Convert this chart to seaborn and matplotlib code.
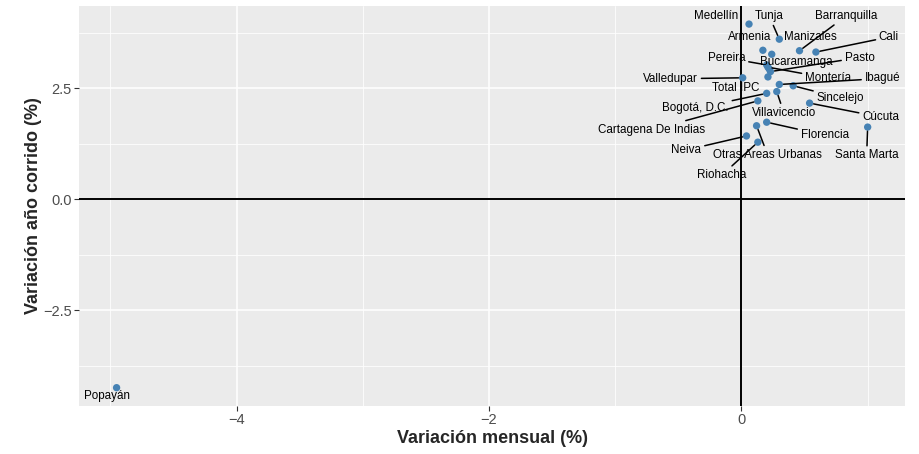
import numpy as np
import pandas as pd
import matplotlib
matplotlib.use("Agg")
import matplotlib.pyplot as plt
from matplotlib.ticker import FixedLocator, FuncFormatter
import seaborn as sns

# Datos: variación mensual y año corrido (%) por ciudad
ciudades = ["Medellín", "Tunja", "Barranquilla", "Armenia", "Manizales", "Cali",
            "Pereira", "Montería", "Bucaramanga", "Pasto", "Total IPC", "Valledupar",
            "Ibagué", "Sincelejo", "Bogotá, D.C.", "Villavicencio", "Cartagena De Indias",
            "Cúcuta", "Santa Marta", "Florencia", "Otras Areas Urbanas", "Neiva",
            "Riohacha", "Popayán"]
var_mensual = [0.06, 0.30, 0.46, 0.17, 0.24, 0.59,
               0.20, 0.21, 0.22, 0.23, 0.21, 0.01,
               0.30, 0.41, 0.20, 0.28, 0.13,
               0.54, 1.00, 0.20, 0.12, 0.04,
               0.13, -4.95]
var_anio = [3.95, 3.61, 3.35, 3.36, 3.27, 3.32,
            3.03, 2.98, 2.94, 2.88, 2.76, 2.74,
            2.59, 2.56, 2.39, 2.43, 2.22,
            2.17, 1.63, 1.74, 1.66, 1.43,
            1.29, -4.24]

df = pd.DataFrame({"ciudad": ciudades, "mensual": var_mensual, "anio": var_anio})

# desplazamiento de las etiquetas (pixeles) tipo ggrepel
offsets = {
    "Medellín": (-33, 8), "Tunja": (-10, 23), "Barranquilla": (47, 35),
    "Armenia": (-13, 13), "Manizales": (39, 17), "Cali": (73, 15),
    "Pereira": (-40, 7), "Montería": (60, -11), "Bucaramanga": (27, 7),
    "Pasto": (89, 14), "Total IPC": (-32, -11), "Valledupar": (-72, -1),
    "Ibagué": (103, 6), "Sincelejo": (47, -12), "Bogotá, D.C.": (-71, -15),
    "Villavicencio": (7, -21), "Cartagena De Indias": (-106, -29),
    "Cúcuta": (71, -14), "Santa Marta": (-1, -28), "Florencia": (58, -13),
    "Otras Areas Urbanas": (11, -29), "Neiva": (-60, -14),
    "Riohacha": (-36, -33), "Popayán": (-10, -8),
}
sin_segmento = ["Medellín", "Armenia", "Manizales", "Bucaramanga", "Total IPC", "Popayán"]

sns.set_theme(style="darkgrid", rc={
    "axes.facecolor": "#EBEBEB",
    "grid.color": "white",
    "axes.edgecolor": "none",
    "xtick.bottom": True, "ytick.left": True,
    "xtick.color": "#333333", "ytick.color": "#333333",
    "xtick.labelcolor": "#4D4D4D", "ytick.labelcolor": "#4D4D4D",
})
plt.rcParams["font.family"] = ["Liberation Sans", "DejaVu Sans"]

fig, ax = plt.subplots(figsize=(9.19, 4.54), dpi=100)
fig.subplots_adjust(left=0.086, right=0.985, top=0.987, bottom=0.106)

ax.axhline(0, color="black", lw=1.4, zorder=2)
ax.axvline(0, color="black", lw=1.4, zorder=2)
sns.scatterplot(data=df, x="mensual", y="anio", color="#4682B4", s=28,
                edgecolor="none", ax=ax, zorder=3)

for _, r in df.iterrows():
    dx, dy = offsets[r["ciudad"]]
    props = None
    if r["ciudad"] not in sin_segmento:
        props = dict(arrowstyle="-", color="black", lw=1.1, shrinkA=0, shrinkB=3)
    ax.annotate(r["ciudad"], (r["mensual"], r["anio"]), xytext=(dx, dy),
                textcoords="offset pixels", ha="center", va="center",
                fontsize=8.4, color="black", arrowprops=props, zorder=4)

# límites con expansión del 5% como ggplot
xr = df["mensual"].max() - df["mensual"].min()
yr = df["anio"].max() - df["anio"].min()
ax.set_xlim(df["mensual"].min() - 0.05 * xr, df["mensual"].max() + 0.05 * xr)
ax.set_ylim(df["anio"].min() - 0.05 * yr, df["anio"].max() + 0.05 * yr)

minus = lambda s: s.replace("-", "\u2212")
ax.xaxis.set_major_locator(FixedLocator([-4, -2, 0]))
ax.xaxis.set_minor_locator(FixedLocator([-5, -3, -1, 1]))
ax.yaxis.set_major_locator(FixedLocator([-2.5, 0, 2.5]))
ax.yaxis.set_minor_locator(FixedLocator([-3.75, -1.25, 1.25, 3.75]))
ax.xaxis.set_major_formatter(FuncFormatter(lambda v, p: minus(f"{v:g}")))
ax.yaxis.set_major_formatter(FuncFormatter(lambda v, p: minus(f"{v:.1f}")))
ax.grid(which="major", color="white", lw=1.1)
ax.grid(which="minor", color="white", lw=0.55)
ax.tick_params(which="major", length=3.3, width=0.8, labelsize=10.5, pad=2)
ax.tick_params(which="minor", length=0)

ax.set_xlabel("Variación mensual (%)", fontsize=13, fontweight="bold", labelpad=2)
ax.set_ylabel("Variación año corrido (%)", fontsize=13, fontweight="bold", labelpad=1)

fig.savefig("out.png", dpi=100)
